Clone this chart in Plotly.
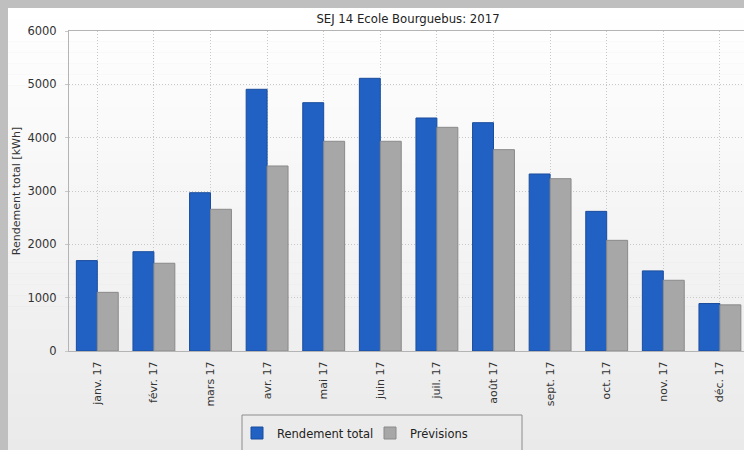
import plotly.graph_objects as go

months = ["janv. 17", "févr. 17", "mars 17", "avr. 17", "mai 17", "juin 17",
          "juil. 17", "août 17", "sept. 17", "oct. 17", "nov. 17", "déc. 17"]
rendement = [1695, 1862, 2968, 4907, 4656, 5113, 4369, 4281, 3319, 2618, 1502, 890]
previsions = [1100, 1645, 2657, 3469, 3932, 3932, 4194, 3775, 3231, 2075, 1326, 865]
y_ticks = [0, 1000, 2000, 3000, 4000, 5000, 6000]

W, H = 744, 450
L, R, T, B = 69, 0, 31, 99
pw, ph = W - L - R, H - T - B

def px_x(p):
    return (p - L) / pw

def px_y(p):
    return 1 - (p - T) / ph

font = "DejaVu Sans, Verdana, sans-serif"

fig = go.Figure()
fig.add_trace(go.Bar(x=list(range(12)), y=rendement, name="Rendement total",
                     legend="legend",
                     marker=dict(color="#2161c3", line=dict(color="#1b4d9c", width=1))))
fig.add_trace(go.Bar(x=list(range(12)), y=previsions, name="Prévisions",
                     legend="legend2",
                     marker=dict(color="#a7a7a7", line=dict(color="#8a8a8a", width=1))))

shapes = []
# panel gradient (white at top -> light gray at bottom)
n = 40
top_px, bot_px = 8, 450
for i in range(n):
    y0 = top_px + (bot_px - top_px) * i / n
    y1 = top_px + (bot_px - top_px) * (i + 1) / n + 0.5
    v = int(round(255 - (255 - 234) * (i / (n - 1))))
    col = f"rgb({v},{v},{v})"
    shapes.append(dict(type="rect", xref="paper", yref="paper",
                       x0=px_x(8), x1=px_x(745), y0=px_y(y1), y1=px_y(y0),
                       fillcolor=col, line=dict(width=0), layer="below"))
# legend box
shapes.append(dict(type="rect", xref="paper", yref="paper",
                   x0=px_x(242), x1=px_x(522), y0=px_y(470), y1=px_y(415),
                   fillcolor="rgba(0,0,0,0)", line=dict(color="#8c8c8c", width=1),
                   layer="above"))

leg_common = dict(orientation="h", xref="container", yref="container",
                  yanchor="middle", y=1 - 433 / H,
                  bgcolor="rgba(0,0,0,0)", borderwidth=0,
                  font=dict(family=font, size=11.5, color="#222222"),
                  itemwidth=30)

fig.update_layout(
    width=W, height=H,
    margin=dict(l=L, r=R, t=T, b=B, autoexpand=False),
    paper_bgcolor="#bfbfbf",
    plot_bgcolor="rgba(0,0,0,0)",
    barmode="group", bargap=0.26, bargroupgap=0.0,
    font=dict(family=font, size=11, color="#333333"),
    title=dict(text="SEJ 14 Ecole Bourguebus: 2017", x=px_x(408), xanchor="center",
               xref="paper", y=1 - 19 / H, yanchor="middle",
               font=dict(family=font, size=11.7, color="#222222")),
    shapes=shapes,
    showlegend=True,
    legend=dict(x=237 / W, xanchor="left", **leg_common),
    legend2=dict(x=370 / W, xanchor="left", **leg_common),
    xaxis=dict(range=[-0.5, -0.5 + pw / 56.6], tickmode="array",
               tickvals=list(range(12)), ticktext=months, tickangle=-90,
               showgrid=True, gridcolor="#c8c8c8", griddash="1px,2px", gridwidth=1,
               showline=True, linecolor="#b4b4b4", linewidth=1, mirror=True,
               ticks="outside", ticklen=5, tickcolor="rgba(0,0,0,0)",
               tickfont=dict(family=font, size=11, color="#333333"),
               zeroline=False, fixedrange=True),
    yaxis=dict(range=[0, 6000], tickmode="array", tickvals=y_ticks,
               showgrid=True, gridcolor="#c8c8c8", griddash="1px,2px", gridwidth=1,
               showline=True, linecolor="#b4b4b4", linewidth=1,
               ticks="outside", ticklen=3, tickcolor="#c8c8c8",
               ticklabelstandoff=6,
               tickfont=dict(family=font, size=11.5, color="#333333"),
               title=dict(text="Rendement total [kWh]", standoff=4,
                          font=dict(family=font, size=11, color="#333333")),
               zeroline=False, fixedrange=True),
)

fig.write_html(
    "out.html",
    config={"displayModeBar": False},
    post_script="document.body.style.margin='0';"
                "document.body.style.overflow='hidden';"
                "document.documentElement.style.overflow='hidden';",
)
